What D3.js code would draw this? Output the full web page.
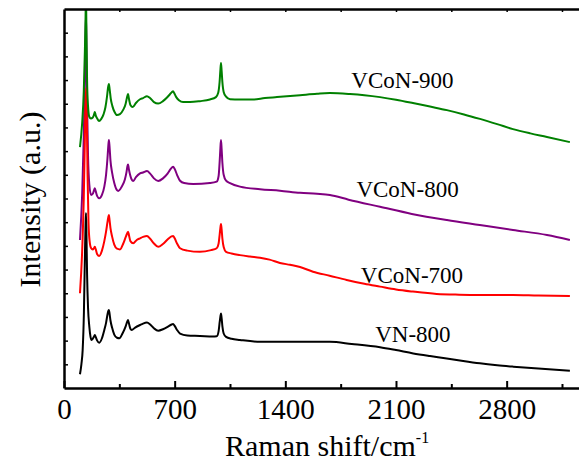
<!DOCTYPE html>
<html>
<head>
<meta charset="utf-8">
<script src="https://cdn.jsdelivr.net/npm/d3@7"></script>
<style>
  body { margin: 0; background: #fff; }
  svg { display: block; }
</style>
</head>
<body>
<svg id="chart" width="579" height="468"></svg>
<script>
// Raman shift (cm-1) and offset intensity (a.u.) for each spectrum
const vn800_x = [101, 110, 118, 126, 132, 136, 139, 142, 146, 152, 160, 168, 174, 182, 189, 195, 201, 210, 223, 240, 255, 266, 275, 280, 284, 288, 294, 304, 318, 335, 350, 370, 390, 400, 405, 411, 420, 428, 450, 481, 500, 525, 545, 569, 596, 626, 660, 680, 690, 700, 715, 734, 780, 860, 940, 966, 978, 985, 989, 993, 997, 1002, 1010, 1025, 1060, 1113, 1240, 1366, 1500, 1682, 1820, 1999, 2100, 2209, 2315, 2421, 2525, 2631, 2740, 2842, 3000, 3200];
const vn800_y = [0.58, 1.0, 1.6, 3.2, 5.5, 6.8, 7.39, 6.5, 4.8, 3.4, 2.6, 2.15, 2.03, 2.08, 2.16, 2.24, 2.15, 2.0, 1.91, 2.1, 2.45, 2.75, 3.1, 3.25, 3.29, 3.15, 2.85, 2.55, 2.25, 2.12, 2.10, 2.3, 2.6, 2.8, 2.87, 2.72, 2.5, 2.45, 2.55, 2.66, 2.72, 2.76, 2.68, 2.52, 2.42, 2.48, 2.6, 2.68, 2.70, 2.62, 2.45, 2.30, 2.22, 2.20, 2.17, 2.18, 2.4, 2.8, 3.0, 3.15, 2.95, 2.6, 2.3, 2.16, 2.08, 2.03, 1.95, 1.95, 1.95, 1.95, 1.86, 1.72, 1.6, 1.46, 1.35, 1.25, 1.14, 1.04, 0.96, 0.90, 0.82, 0.73];

const vcon700_x = [101, 115, 125, 132, 136, 140, 144, 149, 155, 162, 171, 182, 189, 195, 201, 210, 223, 240, 255, 266, 275, 280, 284, 288, 294, 304, 318, 335, 354, 375, 392, 405, 411, 420, 438, 460, 481, 500, 525, 545, 569, 596, 626, 660, 680, 690, 700, 715, 734, 780, 860, 930, 966, 978, 985, 989, 993, 997, 1002, 1010, 1025, 1060, 1113, 1176, 1240, 1300, 1366, 1430, 1493, 1575, 1680, 1788, 1900, 1999, 2100, 2207, 2357, 2500, 2631, 2840, 3000, 3200];
const vcon700_y = [4.00, 5.8, 8.0, 10.5, 12.0, 12.66, 11.5, 9.0, 7.0, 6.2, 5.91, 5.85, 5.9, 5.96, 5.85, 5.65, 5.57, 5.8, 6.2, 6.6, 7.0, 7.2, 7.30, 7.1, 6.75, 6.4, 6.05, 5.88, 5.85, 6.1, 6.4, 6.60, 6.45, 6.2, 6.11, 6.25, 6.32, 6.38, 6.42, 6.3, 6.1, 5.96, 6.08, 6.3, 6.4, 6.42, 6.32, 6.1, 5.90, 5.8, 5.75, 5.82, 5.90, 6.1, 6.5, 6.75, 6.92, 6.7, 6.3, 5.95, 5.75, 5.68, 5.61, 5.55, 5.50, 5.42, 5.28, 5.2, 5.11, 4.91, 4.74, 4.56, 4.4, 4.28, 4.16, 4.07, 3.97, 3.94, 3.93, 3.93, 3.9, 3.88];

const vcon800_x = [101, 115, 125, 132, 136, 139, 142, 146, 152, 160, 171, 182, 189, 195, 201, 210, 223, 240, 255, 266, 275, 280, 284, 288, 294, 304, 318, 335, 343, 365, 385, 395, 401, 405, 410, 418, 428, 438, 455, 481, 500, 525, 545, 569, 596, 626, 655, 675, 690, 700, 715, 734, 760, 818, 923, 966, 978, 985, 989, 993, 997, 1002, 1010, 1025, 1050, 1113, 1240, 1366, 1493, 1600, 1682, 1800, 1999, 2200, 2422, 2630, 2840, 3055, 3200];
const vcon800_y = [6.25, 8.2, 10.6, 13.0, 14.8, 15.75, 14.5, 12.0, 9.8, 8.6, 8.15, 8.2, 8.33, 8.43, 8.3, 8.1, 8.01, 8.15, 8.5, 9.0, 9.7, 10.2, 10.47, 10.2, 9.6, 9.1, 8.65, 8.35, 8.32, 8.5, 8.8, 9.1, 9.35, 9.44, 9.25, 9.0, 8.8, 8.74, 8.9, 9.06, 9.1, 9.16, 9.05, 8.85, 8.74, 8.85, 9.05, 9.25, 9.34, 9.25, 9.0, 8.75, 8.65, 8.61, 8.65, 8.71, 8.95, 9.6, 10.1, 10.47, 10.1, 9.5, 9.0, 8.75, 8.65, 8.50, 8.39, 8.33, 8.24, 8.2, 8.15, 7.95, 7.65, 7.35, 7.09, 6.88, 6.67, 6.46, 6.25];

const vcon900_x = [101, 115, 125, 132, 136, 139, 142, 146, 152, 160, 170, 182, 189, 195, 201, 210, 222, 235, 250, 262, 272, 279, 284, 289, 296, 306, 320, 335, 354, 375, 390, 398, 405, 411, 420, 435, 455, 481, 500, 525, 544, 569, 596, 626, 650, 670, 683, 690, 697, 710, 727, 753, 797, 860, 923, 961, 975, 984, 989, 993, 997, 1002, 1010, 1025, 1050, 1113, 1195, 1271, 1347, 1493, 1600, 1682, 1809, 1900, 1999, 2100, 2207, 2315, 2422, 2530, 2631, 2740, 2840, 2950, 3055, 3200];
const vcon900_y = [10.17, 11.2, 12.5, 14.2, 15.5, 16.6, 15.0, 13.0, 11.9, 11.45, 11.38, 11.42, 11.52, 11.65, 11.5, 11.38, 11.27, 11.35, 11.55, 11.85, 12.3, 12.7, 12.83, 12.6, 12.2, 11.9, 11.65, 11.52, 11.56, 11.75, 12.0, 12.25, 12.41, 12.2, 11.95, 11.86, 12.03, 12.19, 12.24, 12.32, 12.24, 12.07, 12.01, 12.11, 12.25, 12.4, 12.5, 12.53, 12.45, 12.28, 12.15, 12.07, 12.07, 12.11, 12.18, 12.28, 12.45, 12.9, 13.4, 13.72, 13.4, 12.9, 12.5, 12.3, 12.19, 12.18, 12.18, 12.24, 12.28, 12.36, 12.42, 12.45, 12.41, 12.36, 12.28, 12.17, 12.03, 11.88, 11.73, 11.55, 11.36, 11.14, 10.93, 10.75, 10.60, 10.38];

const seriesNames = ['VCoN-800', 'VCoN-700', 'VN-800', 'VCoN-900'];
const seriesColors = ['#800080', '#ff0000', '#000000', '#008000'];
const seriesX = [vcon800_x, vcon700_x, vn800_x, vcon900_x];
const seriesY = [vcon800_y, vcon700_y, vn800_y, vcon900_y];

// label anchors (data coords: middle of text, baseline)
const labelX = [2173, 2201, 2207, 2141];
const labelY = [8.06, 4.45, 1.94, 12.66];

const xTicks = [0, 700, 1400, 2100, 2800];

const width = 579, height = 468;
const plot = { left: 64, top: 9, bottom: 388, right: 585.7 };

const svg = d3.select('#chart');
const font = '"Liberation Serif", "Times New Roman", serif';

const xScale = d3.scaleLinear().domain([0, 3300]).range([plot.left, plot.right]);
const yScale = d3.scaleLinear().domain([0, 16]).range([plot.bottom, plot.top]);

svg.append('defs').append('clipPath')
    .attr('id', 'plot-clip')
    .append('rect')
    .attr('x', plot.left)
    .attr('y', plot.top)
    .attr('width', plot.right - plot.left)
    .attr('height', plot.bottom - plot.top);

// spectra
const line = d3.line()
    .x(d => xScale(d[0]))
    .y(d => yScale(d[1]))
    .curve(d3.curveMonotoneX);

const lines = svg.append('g').attr('clip-path', 'url(#plot-clip)');
seriesNames.forEach((name, i) => {
    const pts = seriesX[i].map((x, j) => [x, seriesY[i][j]]);
    lines.append('path')
        .datum(pts)
        .attr('fill', 'none')
        .attr('stroke', seriesColors[i])
        .attr('stroke-width', 2)
        .attr('stroke-linejoin', 'round')
        .attr('d', line);
});

// bottom axis: labels every 700, minor ticks between
const xAxis = d3.axisBottom(xScale)
    .tickValues(d3.range(0, 3301, 350))
    .tickSizeInner(-6)
    .tickSizeOuter(0)
    .tickPadding(10)
    .tickFormat(d => xTicks.includes(d) ? d : '');

const gx = svg.append('g')
    .attr('id', 'x-axis')
    .attr('transform', `translate(0,${plot.bottom})`)
    .call(xAxis);
gx.selectAll('.tick line').attr('stroke-width', 2)
    .attr('y2', d => xTicks.includes(d) ? -7 : -4);
gx.select('.domain').attr('stroke-width', 2.5);
gx.selectAll('text')
    .style('font-family', font)
    .style('font-size', '29px')
    .attr('fill', '#000')
    .attr('dy', '0.72em');

// top axis
const gTop = svg.append('g')
    .attr('transform', `translate(0,${plot.top})`)
    .call(d3.axisTop(xScale).tickValues(d3.range(350, 3301, 350)).tickSizeInner(-3).tickSizeOuter(0).tickFormat(''));
gTop.select('.domain').attr('stroke-width', 2.5);
gTop.selectAll('.tick line').attr('stroke-width', 1.5);

// left axis, ticks only
const gy = svg.append('g')
    .attr('transform', `translate(${plot.left},0)`)
    .call(d3.axisLeft(yScale).tickValues(d3.range(1, 16)).tickSizeInner(-4).tickSizeOuter(0).tickFormat(''));
gy.select('.domain').attr('stroke-width', 2.5);
gy.selectAll('.tick line').attr('stroke-width', 1.5);

// series labels
seriesNames.forEach((name, i) => {
    svg.append('text')
        .attr('x', xScale(labelX[i]))
        .attr('y', yScale(labelY[i]))
        .attr('text-anchor', 'middle')
        .style('font-family', font)
        .style('font-size', '23px')
        .attr('fill', '#000')
        .text(name);
});

// axis titles
const xt = svg.append('text')
    .attr('x', 225)
    .attr('y', 456)
    .style('font-family', font)
    .style('font-size', '30px')
    .attr('fill', '#000');
xt.append('tspan').text('Raman shift/cm');
xt.append('tspan').attr('dy', -13).style('font-size', '16px').text('-1');

svg.append('text')
    .attr('transform', `translate(40,${(plot.top + plot.bottom) / 2 + 1}) rotate(-90)`)
    .attr('text-anchor', 'middle')
    .style('font-family', font)
    .style('font-size', '30px')
    .attr('fill', '#000')
    .text('Intensity (a.u.)');
</script>
</body>
</html>
